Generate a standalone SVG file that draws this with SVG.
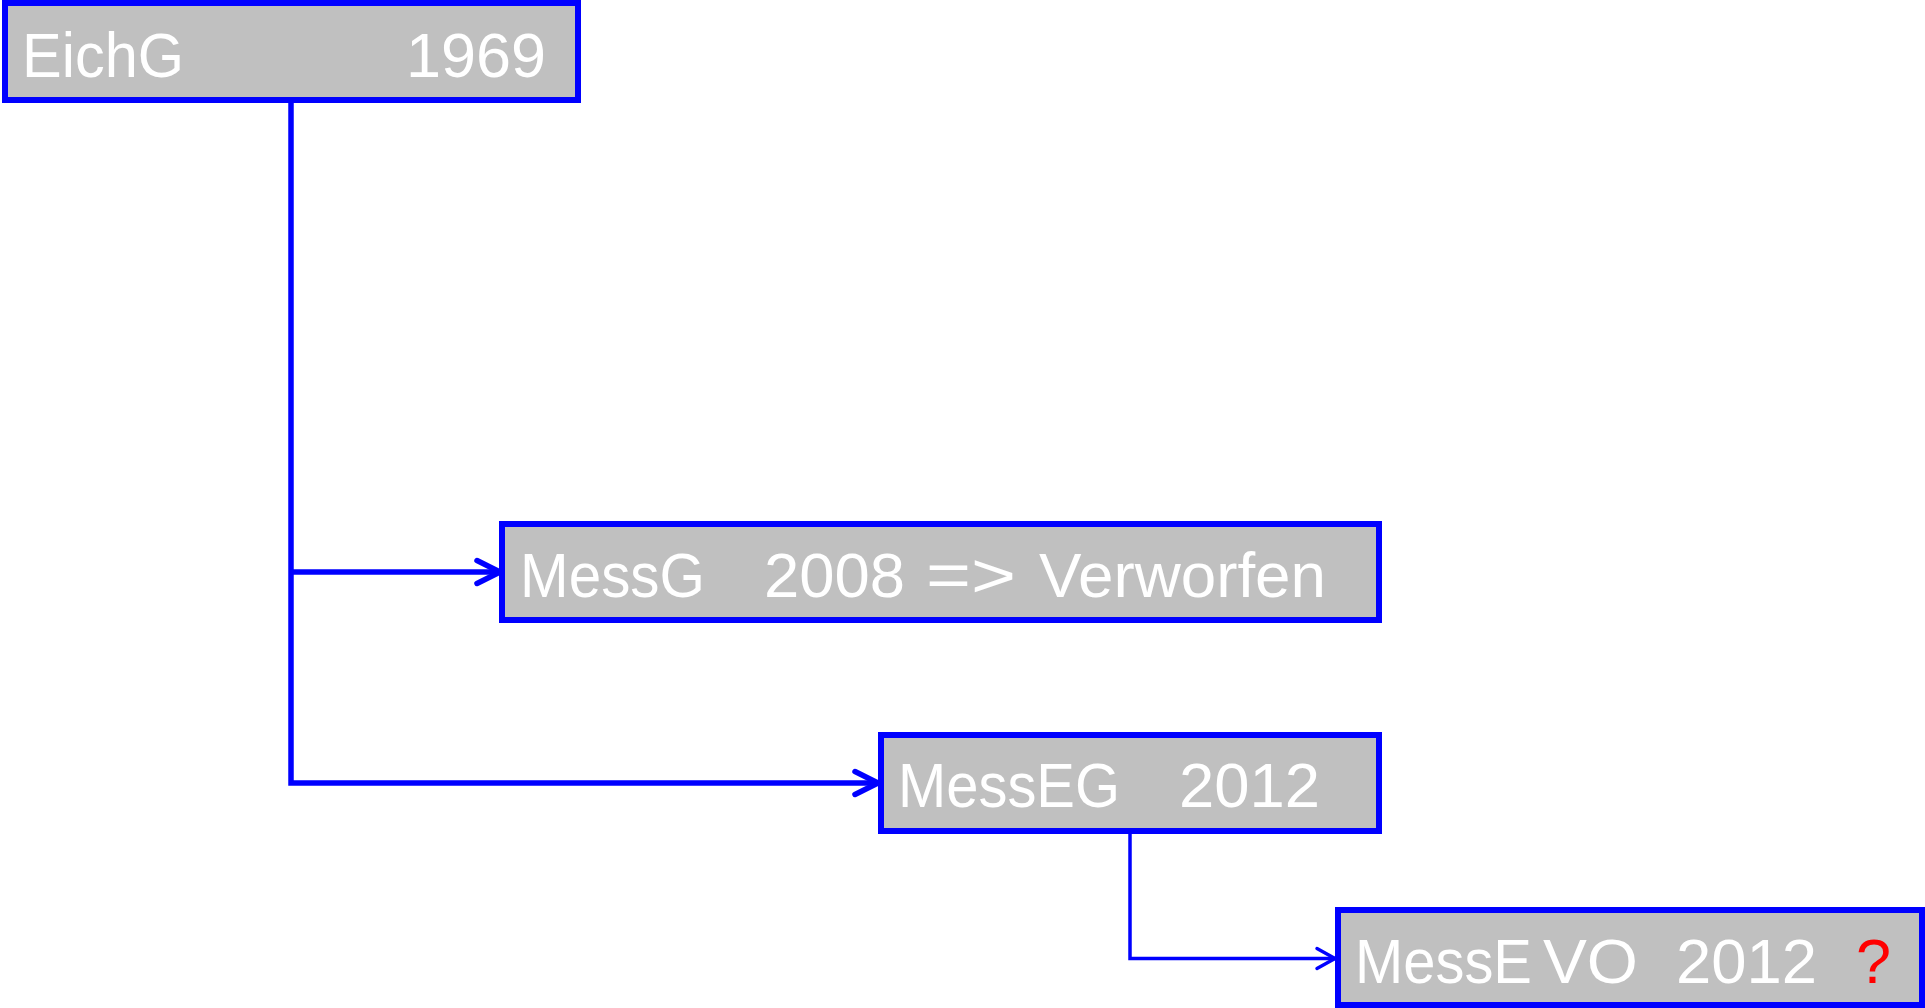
<svg xmlns="http://www.w3.org/2000/svg" width="1925" height="1008" viewBox="0 0 1925 1008">
<style>
.box{fill:#C0C0C0;stroke:#0000FF;stroke-width:6}
.t{font-family:"Liberation Sans",Arial,sans-serif;font-size:63px;fill:#FFFFFF}
.q{fill:#FF0000}
.c{fill:none;stroke:#0000FF;stroke-width:5.5;stroke-linejoin:miter}
.cs{fill:none;stroke:#0000FF;stroke-width:3.5}
</style>
<defs>
<marker id="ah" markerUnits="userSpaceOnUse" orient="auto" refX="0" refY="0" overflow="visible" markerWidth="30" markerHeight="30">
<path d="M-23,-11.5 L0,0 L-23,11.5" fill="none" stroke="#0000FF" stroke-width="5.5" stroke-linecap="round" stroke-linejoin="round"/>
</marker>
<marker id="ahs" markerUnits="userSpaceOnUse" orient="auto" refX="0" refY="0" overflow="visible" markerWidth="30" markerHeight="30">
<path d="M-18,-10 L0,0 L-18,10" fill="none" stroke="#0000FF" stroke-width="3.5" stroke-linecap="round" stroke-linejoin="round"/>
</marker>
</defs>
<g id="connectors">
<path class="c" d="M291,103 V783 H878" marker-end="url(#ah)"/>
<path class="c" d="M291,572 H500" marker-end="url(#ah)"/>
<path class="cs" d="M1130,832 V958.5 H1335" marker-end="url(#ahs)"/>
</g>
<g id="node-eichg">
<rect class="box" x="5" y="3" width="573" height="97"/>
<text class="t" x="22" y="77" textLength="162" lengthAdjust="spacingAndGlyphs">EichG</text>
<text class="t" x="406" y="77" textLength="140" lengthAdjust="spacingAndGlyphs">1969</text>
</g>
<g id="node-messg">
<rect class="box" x="502" y="524" width="877" height="96"/>
<text class="t" x="520" y="597" textLength="185" lengthAdjust="spacingAndGlyphs">MessG</text>
<text class="t" x="764" y="597" textLength="141" lengthAdjust="spacingAndGlyphs">2008</text>
<text class="t" x="926" y="597" textLength="90" lengthAdjust="spacingAndGlyphs">=&gt;</text>
<text class="t" x="1039" y="597" textLength="287" lengthAdjust="spacingAndGlyphs">Verworfen</text>
</g>
<g id="node-messeg">
<rect class="box" x="881" y="735" width="498" height="96"/>
<text class="t" x="898" y="807" textLength="222" lengthAdjust="spacingAndGlyphs">MessEG</text>
<text class="t" x="1179" y="807" textLength="141" lengthAdjust="spacingAndGlyphs">2012</text>
</g>
<g id="node-messevo">
<rect class="box" x="1338" y="910" width="584" height="95"/>
<text class="t" x="1355" y="983" textLength="177" lengthAdjust="spacingAndGlyphs">MessE</text>
<text class="t" x="1543" y="983" textLength="95" lengthAdjust="spacingAndGlyphs">VO</text>
<text class="t" x="1676" y="983" textLength="141" lengthAdjust="spacingAndGlyphs">2012</text>
<text class="t q" x="1856" y="983">?</text>
</g>
</svg>
